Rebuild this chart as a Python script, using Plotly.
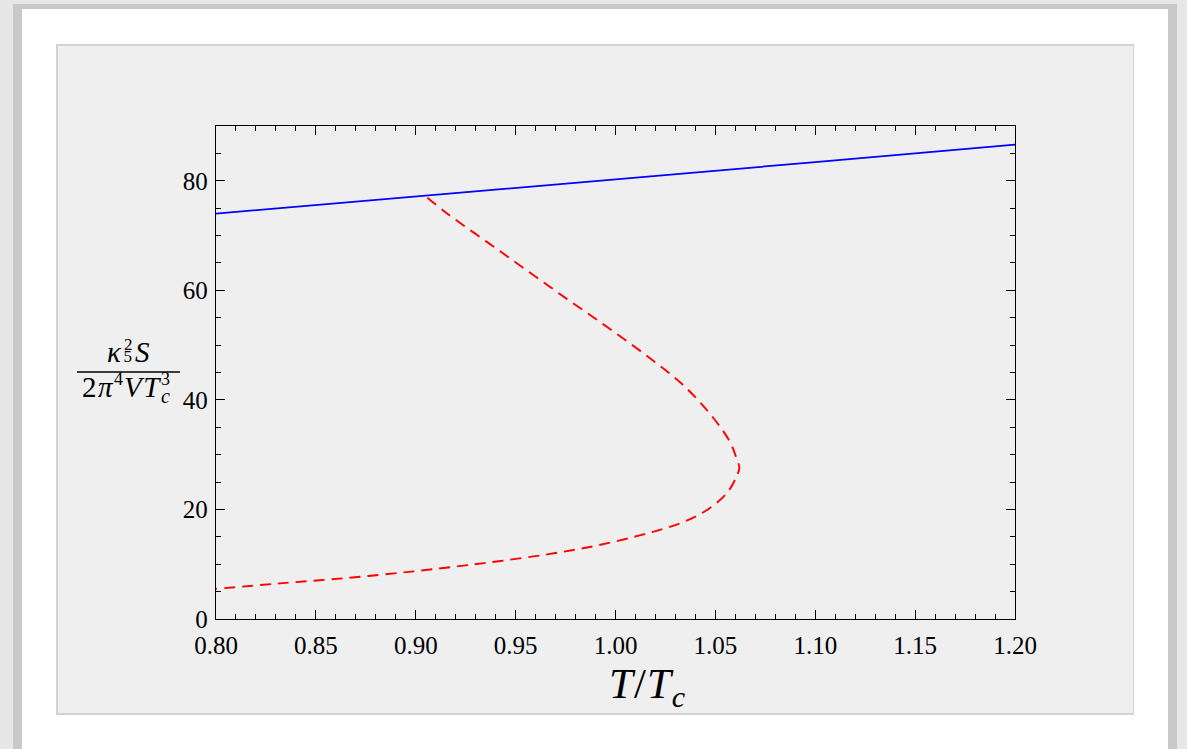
import plotly.graph_objects as go

# Data
blue_T = [0.80, 0.90, 1.00, 1.10, 1.20]
blue_S = [74.0, 77.1, 80.2, 83.4, 86.6]

red_T = [0.9058, 0.9158, 0.9358, 0.9558, 0.9758, 0.9958, 1.0158, 1.0342, 1.0492, 1.0575,
         1.0605, 1.0620, 1.0608, 1.0558, 1.0458, 1.0325, 1.0125, 0.9892, 0.9658, 0.9425,
         0.925, 0.899, 0.8658, 0.832, 0.800]
red_S = [76.9, 74.0, 68.8, 63.6, 58.4, 53.3, 48.0, 42.6, 36.6, 32.2,
         29.4, 27.6, 26.2, 23.0, 19.9, 17.5, 15.3, 13.3, 11.8, 10.6,
         9.8, 8.7, 7.5, 6.5, 5.5]

x_ticks = [0.80, 0.85, 0.90, 0.95, 1.00, 1.05, 1.10, 1.15, 1.20]
y_ticks = [0, 20, 40, 60, 80]

W, H = 1187, 749
L, R, T, B = 216, 1015, 126, 619

def px(x):
    return (x - L) / (R - L)

def py(y):
    return (B - y) / (B - T)

fig = go.Figure()
fig.add_trace(go.Scatter(x=blue_T, y=blue_S, mode="lines",
                         line=dict(color="#0000ff", width=1.7), showlegend=False))
fig.add_trace(go.Scatter(x=red_T, y=red_S, mode="lines", line_shape="spline",
                         line=dict(color="#ff0000", width=1.9, dash="11px,7px"), showlegend=False))

shapes = []
shapes.append(dict(type="rect", xref="paper", yref="paper", layer="below",
                   x0=px(13), x1=px(1177), y0=py(4), y1=py(760),
                   fillcolor="#c9c9c9", line=dict(width=0)))
shapes.append(dict(type="rect", xref="paper", yref="paper", layer="below",
                   x0=px(22), x1=px(1168), y0=py(9), y1=py(760),
                   fillcolor="#ffffff", line=dict(width=0)))
shapes.append(dict(type="rect", xref="paper", yref="paper", layer="below",
                   x0=px(56), x1=px(1134), y0=py(44), y1=py(715),
                   fillcolor="#d2d2d2", line=dict(width=0)))
shapes.append(dict(type="rect", xref="paper", yref="paper", layer="below",
                   x0=px(58), x1=px(1133), y0=py(46), y1=py(713),
                   fillcolor="#efefef", line=dict(width=0)))
# fraction bar of y label
shapes.append(dict(type="line", xref="paper", yref="paper",
                   x0=px(77), x1=px(180), y0=py(372), y1=py(372),
                   line=dict(color="black", width=1.6)))

serif = "Liberation Serif, Times New Roman, serif"

numerator = ('<span style="letter-spacing:3px"><i>κ</i></span>'
             '<sup><span style="font-size:17px;letter-spacing:-9px">2</span></sup>'
             '<span style="font-size:17px;letter-spacing:3px">5</span><i>S</i>')
denominator = ('<span style="letter-spacing:1.5px">2<i>π</i></span>'
               '<sup><span style="font-size:18px;letter-spacing:1px">4</span></sup>'
               '<span style="letter-spacing:1.5px"><i>VT</i></span>'
               '<sup><span style="font-size:18px;letter-spacing:-9px">3</span></sup>'
               '<sub><span style="font-size:20px"><i>c</i></span></sub>')

annotations = [
    dict(text='<span style="letter-spacing:1px"><i>T</i>/<i>T</i></span><sub><i>c</i></sub>',
         xref="paper", yref="paper",
         x=px(647), y=py(687), showarrow=False, xanchor="center", yanchor="middle",
         font=dict(family=serif, size=43, color="black")),
    dict(text=numerator, xref="paper", yref="paper", x=px(128), y=py(352),
         showarrow=False, xanchor="center", yanchor="middle", borderpad=0,
         font=dict(family=serif, size=29, color="black")),
    dict(text=denominator, xref="paper", yref="paper", x=px(126), y=py(388),
         showarrow=False, xanchor="center", yanchor="middle", borderpad=0,
         font=dict(family=serif, size=29, color="black")),
]

axis_common = dict(showline=True, linecolor="black", linewidth=1.3, mirror="ticks",
                   ticks="inside", ticklen=9, tickwidth=1, tickcolor="black",
                   showgrid=False, zeroline=False,
                   tickfont=dict(family=serif, size=25, color="black"))

fig.update_layout(
    width=W, height=H,
    margin=dict(l=L, r=W - R, t=T, b=H - B, pad=0),
    paper_bgcolor="#e7e7e7",
    plot_bgcolor="rgba(0,0,0,0)",
    shapes=shapes,
    annotations=annotations,
    xaxis=dict(range=[0.8, 1.2], tickvals=x_ticks,
               ticktext=[f"{v:.2f}" for v in x_ticks], ticklabelstandoff=4,
               minor=dict(ticks="inside", ticklen=5, dtick=0.01, tick0=0.8, tickcolor="black"),
               **axis_common),
    yaxis=dict(range=[0, 90], tickvals=y_ticks, ticklabelstandoff=2,
               minor=dict(ticks="inside", ticklen=5, dtick=5, tick0=0, tickcolor="black"),
               **axis_common),
)

fig.write_html("out.html")
